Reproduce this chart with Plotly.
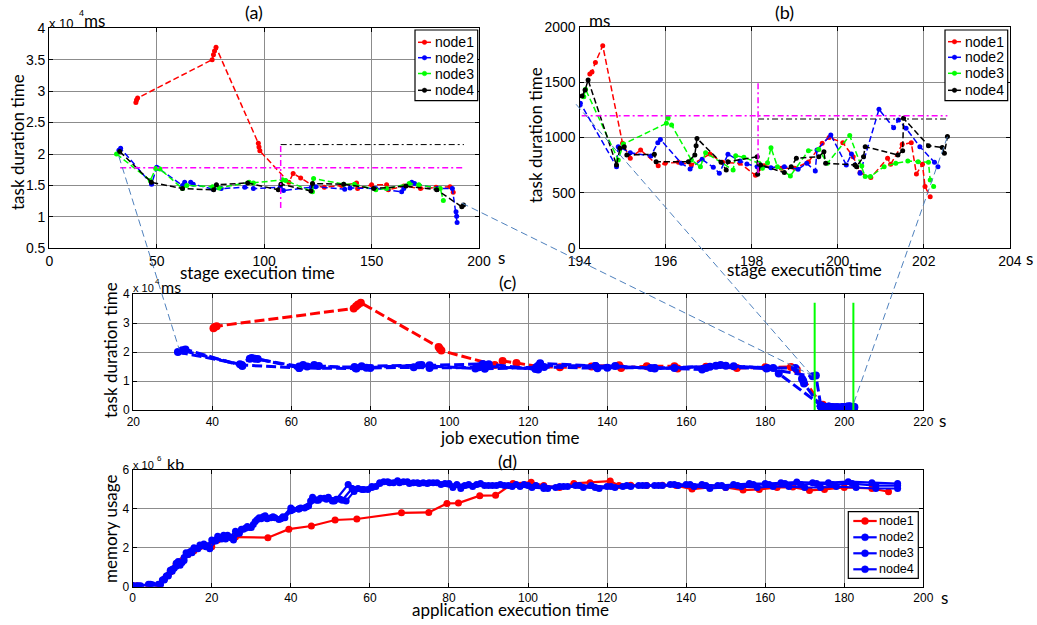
import plotly.graph_objects as go

# ---------------- data ----------------
# (a) stage execution time (s) vs task duration (x1e4 ms)
a_node1_x = [40.3, 40.6, 41.1, 75.8, 76.4, 76.9, 77.6, 97.3, 97.6, 98.0, 111.5, 113.5, 117.0, 122.5, 128.0, 136.0, 143.0, 143.5, 150.0, 157.0, 157.8, 165.0, 172.8, 180.0, 186.5, 188.0]
a_node1_y = [2.82, 2.86, 2.89, 3.50, 3.58, 3.64, 3.70, 2.17, 2.11, 2.05, 1.55, 1.69, 1.62, 1.50, 1.47, 1.50, 1.54, 1.45, 1.51, 1.51, 1.43, 1.49, 1.45, 1.47, 1.48, 1.39]
a_node2_x = [32.4, 33.2, 47.6, 50.0, 50.8, 62.0, 63.0, 65.8, 67.0, 76.3, 80.0, 91.0, 95.0, 107.5, 109.0, 122.0, 124.0, 137.5, 140.0, 152.0, 164.0, 165.0, 168.7, 170.0, 180.5, 187.6, 189.3, 189.6, 189.8]
a_node2_y = [2.06, 2.09, 1.52, 1.79, 1.77, 1.50, 1.55, 1.55, 1.52, 1.44, 1.45, 1.47, 1.45, 1.47, 1.42, 1.47, 1.48, 1.44, 1.46, 1.45, 1.40, 1.45, 1.55, 1.53, 1.45, 1.45, 1.08, 1.01, 0.91]
a_node3_x = [31.3, 47.0, 49.5, 51.5, 62.0, 64.0, 76.0, 79.0, 93.0, 95.0, 108.5, 110.0, 122.5, 123.0, 137.0, 142.0, 152.0, 157.0, 167.5, 172.0, 182.0, 183.4]
a_node3_y = [2.00, 1.58, 1.77, 1.76, 1.45, 1.50, 1.48, 1.46, 1.55, 1.54, 1.59, 1.58, 1.40, 1.61, 1.52, 1.52, 1.43, 1.45, 1.53, 1.51, 1.45, 1.26]
a_node4_x = [32.8, 47.5, 62.0, 76.5, 77.8, 92.3, 106.6, 107.8, 121.8, 122.5, 137.0, 151.0, 166.0, 180.3, 192.0, 192.8]
a_node4_y = [2.04, 1.55, 1.45, 1.43, 1.51, 1.54, 1.43, 1.52, 1.41, 1.53, 1.52, 1.45, 1.49, 1.43, 1.16, 1.19]
a_avg_all = 1.78          # magenta dash-dot level
a_avg_span = [33.0, 193.0]
a_split_x = 107.7
a_split_range = [1.14, 2.15]
a_avg_after = 2.15        # black dash-dot level

# (b) stage execution time (s) vs task duration (ms)
b_node1_x = [194.24, 194.29, 194.37, 194.54, 195.00, 195.18, 195.42, 195.83, 195.99, 196.30, 196.60, 197.03, 197.33, 197.73, 198.09, 198.29, 198.69, 199.00, 199.32, 199.64, 199.80, 200.12, 200.36, 200.52, 200.77, 201.16, 201.23, 201.50, 201.71, 201.83, 201.97, 202.03, 202.15]
b_node1_y = [1573, 1591, 1678, 1829, 947, 812, 887, 746, 767, 776, 752, 851, 776, 767, 659, 746, 722, 722, 779, 947, 1001, 953, 827, 683, 638, 812, 758, 938, 953, 671, 758, 557, 466]
b_node2_x = [194.00, 194.02, 194.86, 194.90, 195.18, 195.66, 195.82, 195.88, 196.37, 196.57, 196.85, 197.11, 197.25, 197.45, 197.73, 197.89, 198.13, 198.45, 198.76, 199.08, 199.28, 199.48, 199.52, 199.84, 200.20, 200.32, 200.52, 200.96, 201.30, 201.41, 201.59, 201.91, 202.25, 202.33]
b_node2_y = [1290, 1310, 737, 917, 863, 833, 953, 983, 767, 716, 803, 731, 677, 848, 788, 761, 737, 728, 737, 713, 767, 698, 887, 1023, 752, 851, 677, 1254, 1089, 1158, 1083, 917, 776, 737]
b_node3_x = [194.10, 194.14, 194.90, 195.02, 196.02, 196.06, 196.14, 196.60, 196.81, 196.93, 197.57, 197.63, 197.82, 198.17, 198.25, 198.37, 198.45, 198.60, 198.90, 199.32, 199.56, 199.76, 200.28, 200.56, 200.64, 200.76, 201.08, 201.35, 201.63, 201.87, 202.11, 202.15, 202.23]
b_node3_y = [1368, 1435, 797, 941, 1128, 1179, 1113, 797, 737, 863, 707, 836, 821, 767, 722, 773, 908, 737, 653, 881, 893, 767, 1017, 743, 647, 647, 737, 767, 788, 782, 776, 617, 557]
b_node4_x = [194.06, 194.13, 194.20, 194.86, 194.94, 195.04, 195.10, 195.74, 195.78, 196.53, 196.68, 196.71, 196.73, 197.29, 197.41, 197.45, 198.13, 198.14, 198.21, 198.76, 198.92, 199.04, 199.56, 199.68, 199.72, 200.40, 200.44, 200.60, 200.64, 201.40, 201.51, 201.53, 202.11, 202.43, 202.48, 202.55]
b_node4_y = [1374, 1428, 1519, 752, 902, 917, 842, 848, 782, 782, 842, 926, 992, 776, 707, 782, 827, 668, 752, 683, 737, 812, 827, 872, 767, 752, 737, 827, 917, 842, 881, 1173, 926, 910, 857, 1008]
b_avg_all = 1197
b_avg_span = [194.05, 202.55]
b_split_x = 198.15
b_split_range = [677, 1504]
b_avg_after = 1167

# (c) job execution time: stage boundaries (green)
c_stage_marks = [192.5, 202.3]
c_stage_mark_top = 3.7

# (d) application execution time (s) vs memory usage (x1e6 kb)
d_node1_x = [0.0, 1.0, 4.0, 6.5, 8.0, 9.5, 11.0, 12.5, 14.0, 15.5, 17.0, 18.5, 20.0, 21.5, 23.5, 26.0, 34.2, 39.5, 45.2, 51.2, 56.7, 68.0, 74.9, 79.5, 82.4, 87.8, 91.8, 96.2, 100.8, 104.0, 108.0, 111.6, 115.7, 120.8, 123.0, 126.0, 130.0, 134.0, 137.5, 141.5, 146.0, 150.0, 154.4, 158.5, 163.0, 167.0, 171.2, 175.0, 180.0, 187.0, 191.2]
d_node1_y = [0.05, 0.05, 0.10, 0.10, 0.40, 0.75, 1.15, 1.35, 1.65, 1.85, 2.05, 2.10, 2.05, 2.40, 2.55, 2.55, 2.52, 2.96, 3.12, 3.43, 3.48, 3.80, 3.82, 4.28, 4.30, 4.68, 4.70, 5.31, 5.37, 5.20, 5.10, 5.31, 5.35, 5.43, 5.20, 5.22, 5.20, 5.22, 5.20, 5.02, 5.10, 5.10, 4.97, 5.00, 5.10, 5.12, 4.95, 5.00, 5.10, 5.05, 4.88]
d_node2_x = [0.0, 1.0, 4.0, 6.5, 7.5, 8.5, 9.5, 10.5, 11.5, 12.5, 13.5, 14.5, 15.5, 17.0, 18.5, 20.0, 21.5, 23.0, 24.5, 26.0, 27.5, 29.0, 30.5, 32.0, 33.5, 35.5, 37.5, 40.0, 42.0, 44.0, 45.5, 47.5, 49.5, 51.5, 54.5, 57.0, 59.5, 61.5, 63.5, 66.0, 68.5, 71.0, 73.5, 76.0, 79.0, 82.0, 85.0, 88.0, 91.0, 94.0, 97.0, 100.0, 104.0, 108.0, 112.0, 116.0, 120.0, 124.0, 128.0, 132.0, 136.0, 140.0, 144.0, 148.0, 152.0, 156.0, 160.0, 164.0, 168.0, 172.0, 176.0, 181.0, 187.0, 193.5]
d_node2_y = [0.05, 0.05, 0.12, 0.12, 0.35, 0.55, 0.85, 0.95, 1.30, 1.25, 1.75, 1.80, 2.00, 2.15, 2.05, 2.40, 2.60, 2.65, 2.55, 2.85, 2.95, 3.10, 3.20, 3.55, 3.65, 3.60, 3.50, 4.05, 4.00, 4.10, 4.60, 4.55, 4.60, 4.50, 5.25, 5.05, 5.00, 5.15, 5.40, 5.35, 5.40, 5.35, 5.35, 5.35, 5.30, 5.25, 5.25, 5.30, 5.20, 5.20, 5.25, 5.20, 5.15, 5.15, 5.20, 5.20, 5.15, 5.15, 5.20, 5.20, 5.25, 5.25, 5.25, 5.20, 5.25, 5.30, 5.30, 5.35, 5.38, 5.35, 5.35, 5.40, 5.35, 5.30]
d_node3_x = [0.0, 1.5, 4.5, 7.0, 8.0, 9.0, 10.0, 11.0, 12.0, 13.0, 14.0, 15.0, 16.0, 17.5, 19.0, 20.5, 22.0, 23.5, 25.0, 26.5, 28.0, 29.5, 31.0, 32.5, 34.0, 36.0, 38.0, 40.0, 42.0, 43.5, 45.0, 47.0, 49.0, 51.0, 53.0, 55.5, 58.0, 60.5, 62.5, 65.0, 67.5, 70.0, 72.5, 75.0, 78.0, 81.0, 84.0, 87.0, 90.0, 93.0, 96.0, 99.0, 102.0, 105.0, 109.0, 113.0, 117.0, 121.0, 125.0, 129.0, 133.0, 137.0, 141.0, 145.0, 149.0, 153.0, 157.0, 161.0, 165.0, 169.0, 173.0, 177.0, 182.0, 188.0, 193.5]
d_node3_y = [0.05, 0.05, 0.12, 0.12, 0.40, 0.60, 0.90, 1.05, 1.20, 1.35, 1.65, 1.75, 1.95, 2.10, 2.10, 2.35, 2.50, 2.45, 2.50, 2.75, 2.95, 3.05, 3.35, 3.50, 3.50, 3.55, 3.60, 3.90, 4.00, 4.05, 4.40, 4.45, 4.50, 4.40, 4.45, 5.05, 5.00, 5.10, 5.35, 5.35, 5.35, 5.30, 5.30, 5.35, 5.25, 5.10, 5.20, 5.25, 5.20, 5.25, 5.15, 5.25, 5.20, 5.05, 5.15, 5.20, 5.10, 5.15, 5.20, 5.20, 5.20, 5.25, 5.25, 5.20, 5.20, 5.20, 5.25, 5.25, 5.30, 5.25, 5.30, 5.25, 5.30, 5.20, 5.20]
d_node4_x = [0.0, 2.0, 5.0, 7.0, 8.0, 9.0, 10.0, 11.0, 12.0, 13.0, 14.0, 15.0, 16.5, 18.0, 19.5, 21.0, 22.5, 24.0, 25.5, 27.0, 28.5, 30.0, 31.5, 33.0, 35.0, 37.0, 38.5, 40.5, 42.5, 44.5, 46.5, 48.5, 50.5, 52.5, 54.0, 56.0, 58.5, 60.5, 62.5, 64.5, 67.0, 69.5, 72.0, 74.5, 77.0, 80.0, 83.0, 86.0, 89.0, 92.0, 95.0, 98.0, 101.0, 104.0, 107.0, 110.0, 114.0, 118.0, 122.0, 126.0, 130.0, 134.0, 138.0, 142.0, 146.0, 150.0, 154.0, 158.0, 162.0, 166.0, 170.0, 174.0, 178.0, 183.0, 188.0, 193.5]
d_node4_y = [0.05, 0.05, 0.10, 0.10, 0.35, 0.55, 0.80, 1.20, 1.10, 1.50, 1.70, 1.85, 1.95, 2.20, 1.95, 2.35, 2.45, 2.65, 2.40, 2.75, 3.00, 3.05, 3.45, 3.60, 3.55, 3.45, 3.55, 3.95, 4.05, 4.15, 4.45, 4.55, 4.40, 4.50, 4.40, 4.90, 5.00, 5.15, 5.30, 5.40, 5.45, 5.40, 5.35, 5.30, 5.35, 5.30, 5.05, 5.15, 5.20, 5.20, 5.20, 5.15, 5.10, 5.05, 5.10, 5.15, 5.10, 5.05, 5.10, 5.15, 5.20, 5.20, 5.20, 5.15, 5.05, 5.10, 5.15, 5.10, 5.15, 5.15, 5.10, 5.10, 5.15, 5.10, 5.05, 5.05]

node_names = ['node1', 'node2', 'node3', 'node4']

# connector lines: (panel, x, y) -> (panel, x, y)
connectors = [
    ('a', 32.4, 1.96, 'c', 31.6, 2.10),
    ('a', 192.0, 1.22, 'c', 191.7, 1.20),
    ('b', 193.92, 1300, 'c', 191.7, 1.20),
    ('b', 202.55, 1007, 'c', 202.3, 0.20),
]

for xs, ys in [(a_node1_x, a_node1_y), (a_node2_x, a_node2_y), (a_node3_x, a_node3_y), (a_node4_x, a_node4_y),
               (b_node1_x, b_node1_y), (b_node2_x, b_node2_y), (b_node3_x, b_node3_y), (b_node4_x, b_node4_y),
               (d_node1_x, d_node1_y), (d_node2_x, d_node2_y), (d_node3_x, d_node3_y), (d_node4_x, d_node4_y)]:
    assert len(xs) == len(ys), (len(xs), len(ys))

# ---------------- layout helpers ----------------
W, H = 1037, 625
PANELS = {
    'a': dict(xpx=(49.3, 479.0), ypx=(28.3, 248.3), xr=[0, 200], yr=[0.5, 4], ax=('x', 'y')),
    'b': dict(xpx=(579.5, 1009.8), ypx=(26.7, 248.3), xr=[194, 204], yr=[0, 2000], ax=('x2', 'y2')),
    'c': dict(xpx=(133.3, 923.3), ypx=(294.0, 410.0), xr=[20, 220], yr=[0, 4], ax=('x3', 'y3')),
    'd': dict(xpx=(132.7, 923.3), ypx=(470.0, 586.7), xr=[0, 200], yr=[0, 6], ax=('x4', 'y4')),
}


def to_paper(p, x, y):
    g = PANELS[p]
    fx = (x - g['xr'][0]) / (g['xr'][1] - g['xr'][0])
    fy = (y - g['yr'][0]) / (g['yr'][1] - g['yr'][0])
    X = g['xpx'][0] + fx * (g['xpx'][1] - g['xpx'][0])
    Y = g['ypx'][1] - fy * (g['ypx'][1] - g['ypx'][0])
    return X / W, 1 - Y / H


RED, BLUE, GREEN, BLACK, MAG = '#ff0000', '#0000ff', '#00ff00', '#000000', '#ff00ff'
TICKFONT = 'Liberation Sans, Arial, sans-serif'
LABELFONT = 'Lato, Carlito, Calibri, sans-serif'
DASH = '6px,3px'
DASHDOT = '6px,3px,2px,3px'

fig = go.Figure()

# ---- (a) ----
a_series = [(a_node1_x, a_node1_y, RED), (a_node2_x, a_node2_y, BLUE),
            (a_node3_x, a_node3_y, GREEN), (a_node4_x, a_node4_y, BLACK)]
for name, (xs, ys, col) in zip(node_names, a_series):
    fig.add_trace(go.Scatter(x=xs, y=ys, mode='lines+markers', name=name, showlegend=False,
                             line=dict(color=col, width=1.5, dash=DASH),
                             marker=dict(color=col, size=5), xaxis='x', yaxis='y'))
fig.add_trace(go.Scatter(x=a_avg_span, y=[a_avg_all, a_avg_all], mode='lines', showlegend=False,
                         line=dict(color=MAG, width=1.5, dash=DASHDOT), xaxis='x', yaxis='y'))
fig.add_trace(go.Scatter(x=[a_split_x, a_split_x], y=a_split_range, mode='lines', showlegend=False,
                         line=dict(color=MAG, width=1.5, dash=DASHDOT), xaxis='x', yaxis='y'))
fig.add_trace(go.Scatter(x=[a_split_x, a_avg_span[1]], y=[a_avg_after, a_avg_after], mode='lines', showlegend=False,
                         line=dict(color=BLACK, width=1, dash=DASHDOT), xaxis='x', yaxis='y'))

# ---- (b) ----
b_series = [(b_node1_x, b_node1_y, RED), (b_node2_x, b_node2_y, BLUE),
            (b_node3_x, b_node3_y, GREEN), (b_node4_x, b_node4_y, BLACK)]
for name, (xs, ys, col) in zip(node_names, b_series):
    fig.add_trace(go.Scatter(x=xs, y=ys, mode='lines+markers', name=name, showlegend=False,
                             line=dict(color=col, width=1.5, dash=DASH),
                             marker=dict(color=col, size=5), xaxis='x2', yaxis='y2'))
fig.add_trace(go.Scatter(x=b_avg_span, y=[b_avg_all, b_avg_all], mode='lines', showlegend=False,
                         line=dict(color=MAG, width=1.5, dash=DASHDOT), xaxis='x2', yaxis='y2'))
fig.add_trace(go.Scatter(x=[b_split_x, b_split_x], y=b_split_range, mode='lines', showlegend=False,
                         line=dict(color=MAG, width=1.5, dash=DASHDOT), xaxis='x2', yaxis='y2'))
fig.add_trace(go.Scatter(x=[b_split_x, b_avg_span[1]], y=[b_avg_after, b_avg_after], mode='lines', showlegend=False,
                         line=dict(color=BLACK, width=1, dash=DASHDOT), xaxis='x2', yaxis='y2'))

# ---- (c) : whole job = stage (a) followed by stage (b) ----
for i, (name, (ax_x, ax_y, _), (bx, by, _)) in enumerate(zip(node_names, a_series, b_series)):
    col = RED if i == 0 else BLUE
    xs = list(ax_x) + list(bx)
    ys = list(ax_y) + [v / 10000.0 for v in by]
    fig.add_trace(go.Scatter(x=xs, y=ys, mode='lines+markers', name=name, showlegend=False,
                             line=dict(color=col, width=3, dash='10px,4px'),
                             marker=dict(color=col, size=8), xaxis='x3', yaxis='y3'))
for xv in c_stage_marks:
    fig.add_trace(go.Scatter(x=[xv, xv], y=[0, c_stage_mark_top], mode='lines', showlegend=False,
                             line=dict(color=GREEN, width=2), xaxis='x3', yaxis='y3'))

# ---- (d) ----
d_series = [(d_node1_x, d_node1_y, RED), (d_node2_x, d_node2_y, BLUE),
            (d_node3_x, d_node3_y, BLUE), (d_node4_x, d_node4_y, BLUE)]
for name, (xs, ys, col) in zip(node_names, d_series):
    fig.add_trace(go.Scatter(x=xs, y=ys, mode='lines+markers', name=name, showlegend=False,
                             line=dict(color=col, width=2.2),
                             marker=dict(color=col, size=7), xaxis='x4', yaxis='y4'))


def axis(p, which, tickvals, size):
    g = PANELS[p]
    if which == 'x':
        dom = [g['xpx'][0] / W, g['xpx'][1] / W]
        rng = g['xr']
        anchor = g['ax'][1]
    else:
        dom = [1 - g['ypx'][1] / H, 1 - g['ypx'][0] / H]
        rng = g['yr']
        anchor = g['ax'][0]
    return dict(domain=dom, range=rng, anchor=anchor, tickvals=tickvals,
                ticktext=['%g' % v for v in tickvals], automargin=False,
                ticks='inside', ticklen=4, tickwidth=1, tickcolor='black',
                showline=True, linecolor='black', linewidth=1.2, mirror='allticks',
                showgrid=True, gridcolor='#8c8c8c', gridwidth=1, zeroline=False,
                tickfont=dict(family=TICKFONT, size=size, color='black'))


a_xt = [0, 50, 100, 150, 200]
a_yt = [0.5, 1, 1.5, 2, 2.5, 3, 3.5, 4]
b_xt = [194, 196, 198, 200, 202, 204]
b_yt = [0, 500, 1000, 1500, 2000]
c_xt = list(range(20, 221, 20))
c_yt = [0, 1, 2, 3, 4]
d_xt = list(range(0, 201, 20))
d_yt = [0, 2, 4, 6]

fig.update_layout(
    width=W, height=H, margin=dict(l=0, r=0, t=0, b=0, pad=0, autoexpand=False), autosize=False,
    paper_bgcolor='white', plot_bgcolor='white', showlegend=False,
    xaxis=axis('a', 'x', a_xt, 14), yaxis=axis('a', 'y', a_yt, 14),
    xaxis2=axis('b', 'x', b_xt, 14), yaxis2=axis('b', 'y', b_yt, 14),
    xaxis3=axis('c', 'x', c_xt, 12), yaxis3=axis('c', 'y', c_yt, 12),
    xaxis4=axis('d', 'x', d_xt, 12), yaxis4=axis('d', 'y', d_yt, 12),
)


def ann(text, x, y, size=17, family=LABELFONT, xanchor='center', yanchor='middle', angle=0):
    return dict(text=text, x=x / W, y=1 - y / H, xref='paper', yref='paper', showarrow=False,
                font=dict(family=family, size=size, color='black'), xanchor=xanchor, yanchor=yanchor,
                textangle=angle, borderpad=0)


annotations = [
    ann('(a)', 254, 12, 18), ann('(b)', 784, 12, 18), ann('(c)', 507, 282, 18), ann('(d)', 507, 461, 18),
    ann('stage execution time', 257, 272), ann('stage execution time', 804, 270),
    ann('job execution time', 510, 437), ann('application execution time', 510, 609),
    ann('task duration time', 17, 142, angle=-90),
    ann('task duration time', 536, 135, angle=-90),
    ann('task duration time', 110, 350, angle=-90),
    ann('memory usage', 110, 529, angle=-90),
    # axis multipliers / units
    ann('x 10', 48, 24, 13, TICKFONT, xanchor='left'), ann('4', 78, 13, 9, TICKFONT, xanchor='left'),
    ann('ms', 83, 21, 17, xanchor='left'),
    ann('ms', 588, 20, 17, xanchor='left'),
    ann('x 10', 132, 288, 11, TICKFONT, xanchor='left'), ann('4', 154, 281, 8, TICKFONT, xanchor='left'),
    ann('ms', 160, 286, 16, xanchor='left'),
    ann('x 10', 132, 465, 11, TICKFONT, xanchor='left'), ann('6', 156, 458, 8, TICKFONT, xanchor='left'),
    ann('kb', 166, 463, 16, xanchor='left'),
    ann('s', 501, 257), ann('s', 1029, 258), ann('s', 942, 420), ann('s', 944, 597),
]

shapes = []
for p0, x0, y0, p1, x1, y1 in connectors:
    X0, Y0 = to_paper(p0, x0, y0)
    X1, Y1 = to_paper(p1, x1, y1)
    shapes.append(dict(type='line', xref='paper', yref='paper', x0=X0, y0=Y0, x1=X1, y1=Y1,
                       line=dict(color='#4f81bd', width=1, dash='7px,4px')))

# ---- MATLAB-style legends (box, sample line + dot, label) ----
LEGENDS = [
    dict(box=(415, 30, 477.7, 100.7), ys=[42.3, 57.7, 73.5, 90.3], line=(418, 431), mk=424.5, tx=433.5,
         size=14, msize=4.5, lw=1.5, colors=[RED, BLUE, GREEN, BLACK]),
    dict(box=(945, 30, 1007.7, 100.7), ys=[41.7, 57.3, 73.3, 90.3], line=(948, 961), mk=954.5, tx=963.5,
         size=14, msize=4.5, lw=1.5, colors=[RED, BLUE, GREEN, BLACK]),
    dict(box=(848.3, 511.7, 918.3, 578.3), ys=[521, 537.3, 553.3, 569.3], line=(853.3, 876.7), mk=865,
         tx=877.5, size=12.5, msize=7, lw=2.2, colors=[RED, BLUE, BLUE, BLUE]),
]
for L in LEGENDS:
    x0, y0, x1, y1 = L['box']
    shapes.append(dict(type='rect', xref='paper', yref='paper', x0=x0 / W, x1=x1 / W, y0=1 - y0 / H, y1=1 - y1 / H,
                       fillcolor='white', line=dict(color='black', width=1.2)))
    for name, yy, col in zip(node_names, L['ys'], L['colors']):
        shapes.append(dict(type='line', xref='paper', yref='paper', x0=L['line'][0] / W, x1=L['line'][1] / W,
                           y0=1 - yy / H, y1=1 - yy / H, line=dict(color=col, width=L['lw'])))
        r = L['msize'] / 2
        shapes.append(dict(type='circle', xref='paper', yref='paper', x0=(L['mk'] - r) / W, x1=(L['mk'] + r) / W,
                           y0=1 - (yy + r) / H, y1=1 - (yy - r) / H, fillcolor=col, line=dict(color=col, width=0.5)))
        annotations.append(ann(name, L['tx'], yy, L['size'], TICKFONT, xanchor='left'))

fig.update_layout(annotations=annotations, shapes=shapes)

fig.write_html('out.html',
               post_script="document.body.style.margin='0px';document.body.style.padding='0px';")
